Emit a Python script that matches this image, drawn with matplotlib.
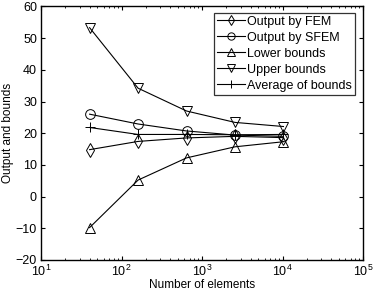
import matplotlib
matplotlib.use("Agg")
import matplotlib.pyplot as plt

plt.rcParams['font.family'] = ['Liberation Sans', 'DejaVu Sans']

elements = [40, 160, 640, 2560, 10240]
fem = [14.8, 17.4, 18.5, 19.0, 18.6]
sfem = [26.0, 22.9, 20.7, 19.4, 19.0]
lower = [-9.8, 5.2, 12.2, 15.7, 17.3]
upper = [53.3, 34.2, 27.0, 23.4, 22.1]
average = [21.8, 19.6, 19.6, 19.5, 19.6]

labels = ["Output by FEM", "Output by SFEM", "Lower bounds", "Upper bounds", "Average of bounds"]
markers = ['d', 'o', '^', 'v', '+']
series = [fem, sfem, lower, upper, average]

fig = plt.figure(figsize=(3.74, 2.94), dpi=100)
ax = fig.add_axes([0.11, 0.116, 0.861, 0.862])

for s, m, lab in zip(series, markers, labels):
    ax.plot(elements, s, color='black', lw=0.8, marker=m, markersize=7,
            markerfacecolor='none', markeredgecolor='black', markeredgewidth=0.7, label=lab)

ax.set_xscale('log')
ax.set_xlim(10, 1e5)
ax.set_ylim(-20, 60)
ax.set_yticks(range(-20, 61, 10))
ax.set_xlabel("Number of elements", fontsize=8.5, labelpad=0)
ax.set_ylabel("Output and bounds", fontsize=8.5, labelpad=1)
ax.tick_params(direction='in', which='both', top=True, right=True, labelsize=9, pad=3)
ax.tick_params(which='major', length=3)
ax.tick_params(which='minor', length=1.5)
for sp in ax.spines.values():
    sp.set_linewidth(1.0)

leg = ax.legend(loc='upper right', fontsize=9, frameon=True, fancybox=False,
                edgecolor='black', handlelength=2.2, handletextpad=0.2,
                labelspacing=0.32, borderpad=0.25,
                bbox_to_anchor=(0.975, 0.976), borderaxespad=0,
                markerscale=0.75)
leg.get_frame().set_linewidth(0.9)

fig.savefig("out.png", dpi=100)
